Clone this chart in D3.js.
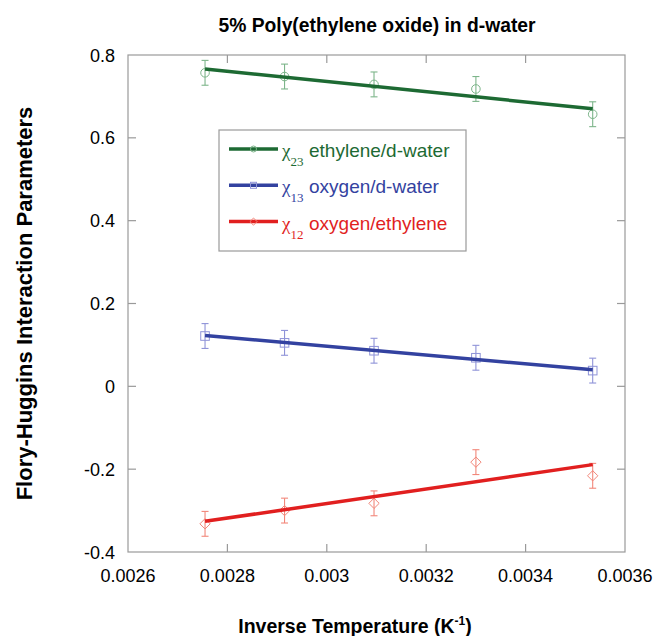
<!DOCTYPE html>
<html lang="en">
<head>
<meta charset="utf-8">
<title>Flory-Huggins parameters</title>
<script src="https://d3js.org/d3.v7.min.js"></script>
<style>
  body { margin: 0; background: #fff; }
  text { font-family: Arial, 'Liberation Sans', sans-serif; }
</style>
</head>
<body>
<div class="chart"></div>
<script type="text/javascript">
// inverse temperature (1/K)
const invT = [0.002755, 0.002915, 0.003095, 0.0033, 0.003535];

// chi values
const chi23 = [0.757, 0.748, 0.729, 0.718, 0.657];
const chi13 = [0.1215, 0.105, 0.086, 0.069, 0.038];
const chi12 = [-0.332, -0.300, -0.2825, -0.183, -0.216];
const errBar = 0.03;

// fitted lines, value at first and last temperature
const fit23 = [0.766, 0.670];
const fit13 = [0.123, 0.040];
const fit12 = [-0.326, -0.189];

const xTicks = [0.0026, 0.0028, 0.003, 0.0032, 0.0034, 0.0036];
const yTicks = [-0.4, -0.2, 0, 0.2, 0.4, 0.6, 0.8];

const seriesNames = ['ethylene/d-water', 'oxygen/d-water', 'oxygen/ethylene'];
const seriesSubs = ['23', '13', '12'];

const width = 655;
const height = 636;
const plotL = 128, plotR = 625, plotT = 55, plotB = 552;

const svg = d3.select('.chart')
  .append('svg')
  .attr('width', width)
  .attr('height', height);

const x = d3.scaleLinear().domain([0.0026, 0.0036]).range([plotL, plotR]);
const y = d3.scaleLinear().domain([-0.4, 0.8]).range([plotB, plotT]);

const series = [
  {vals: chi23, fit: fit23, line: '#1d6a33', mark: '#7db58a', shape: 'circle'},
  {vals: chi13, fit: fit13, line: '#3342a0', mark: '#8f93d8', shape: 'square'},
  {vals: chi12, fit: fit12, line: '#e11f1f', mark: '#f2877a', shape: 'diamond'}
];

// frame
svg.append('rect')
  .attr('x', plotL).attr('y', plotT)
  .attr('width', plotR - plotL).attr('height', plotB - plotT)
  .attr('fill', 'none').attr('stroke', '#9a9a9a').attr('stroke-width', 1.2);

// ticks on all four sides, pointing in
const tickLen = 8;
const tickColor = '#9a9a9a';
xTicks.slice(1, -1).forEach(t => {
  svg.append('line').attr('x1', x(t)).attr('x2', x(t))
    .attr('y1', plotB).attr('y2', plotB - tickLen)
    .attr('stroke', tickColor).attr('stroke-width', 1.2);
  svg.append('line').attr('x1', x(t)).attr('x2', x(t))
    .attr('y1', plotT).attr('y2', plotT + tickLen)
    .attr('stroke', tickColor).attr('stroke-width', 1.2);
});
yTicks.slice(1, -1).forEach(t => {
  svg.append('line').attr('x1', plotL).attr('x2', plotL + tickLen)
    .attr('y1', y(t)).attr('y2', y(t))
    .attr('stroke', tickColor).attr('stroke-width', 1.2);
  svg.append('line').attr('x1', plotR).attr('x2', plotR - tickLen)
    .attr('y1', y(t)).attr('y2', y(t))
    .attr('stroke', tickColor).attr('stroke-width', 1.2);
});

// tick labels
svg.selectAll('.xlab')
  .data(xTicks)
  .enter()
  .append('text')
  .attr('x', d => x(d))
  .attr('y', 582)
  .attr('text-anchor', 'middle')
  .attr('font-size', 18)
  .text(d => String(+d.toPrecision(2)));

svg.selectAll('.ylab')
  .data(yTicks)
  .enter()
  .append('text')
  .attr('x', 115)
  .attr('y', d => y(d) + 6.5)
  .attr('text-anchor', 'end')
  .attr('font-size', 18)
  .text(d => String(+d.toFixed(1)));

// title and axis titles
svg.append('text')
  .attr('x', 377).attr('y', 32)
  .attr('text-anchor', 'middle')
  .attr('font-size', 19.3).attr('font-weight', 'bold')
  .text('5% Poly(ethylene oxide) in d-water');

const xt = svg.append('text')
  .attr('x', 355).attr('y', 633)
  .attr('text-anchor', 'middle')
  .attr('font-size', 19.5).attr('font-weight', 'bold');
xt.append('tspan').text('Inverse Temperature (K');
xt.append('tspan').attr('dy', -8).attr('font-size', 12).text('-1');
xt.append('tspan').attr('dy', 8).text(')');

svg.append('text')
  .attr('transform', 'translate(32,' + ((plotT + plotB) / 2) + ') rotate(-90)')
  .attr('text-anchor', 'middle')
  .attr('font-size', 22).attr('font-weight', 'bold')
  .text('Flory-Huggins Interaction Parameters');

function drawMark(g, shape, cx, cy, size, color) {
  if (shape === 'circle') {
    g.append('circle').attr('cx', cx).attr('cy', cy).attr('r', size)
      .attr('fill', 'none').attr('stroke', color);
  } else if (shape === 'square') {
    g.append('rect').attr('x', cx - size).attr('y', cy - size)
      .attr('width', size * 2).attr('height', size * 2)
      .attr('fill', 'none').attr('stroke', color);
  } else {
    const s = size * 1.2;
    g.append('path')
      .attr('d', `M${cx},${cy - s}L${cx + s},${cy}L${cx},${cy + s}L${cx - s},${cy}Z`)
      .attr('fill', 'none').attr('stroke', color);
  }
}

// data: error bars, markers, fit lines
series.forEach(s => {
  const g = svg.append('g');
  s.vals.forEach((v, i) => {
    const cx = x(invT[i]);
    g.append('line').attr('x1', cx).attr('x2', cx)
      .attr('y1', y(v - errBar)).attr('y2', y(v + errBar))
      .attr('stroke', s.mark).attr('stroke-width', 1.1);
    [v - errBar, v + errBar].forEach(e => {
      g.append('line').attr('x1', cx - 3.5).attr('x2', cx + 3.5)
        .attr('y1', y(e)).attr('y2', y(e))
        .attr('stroke', s.mark).attr('stroke-width', 1.1);
    });
    drawMark(g, s.shape, cx, y(v), 4.3, s.mark);
  });
  g.append('line')
    .attr('x1', x(invT[0])).attr('y1', y(s.fit[0]))
    .attr('x2', x(invT[invT.length - 1])).attr('y2', y(s.fit[1]))
    .attr('stroke', s.line).attr('stroke-width', 3.5);
});

// legend
svg.append('rect')
  .attr('x', 219).attr('y', 130)
  .attr('width', 247).attr('height', 121)
  .attr('fill', '#fff').attr('stroke', '#9a9a9a').attr('stroke-width', 1.2);

series.forEach((s, i) => {
  const base = 157 + i * 36.3;
  svg.append('line')
    .attr('x1', 229).attr('x2', 278)
    .attr('y1', base - 8).attr('y2', base - 8)
    .attr('stroke', s.line).attr('stroke-width', 3.5);
  drawMark(svg, s.shape, 253.5, base - 8, 3, s.mark);
  const t = svg.append('text')
    .attr('x', 282).attr('y', base)
    .attr('fill', s.line);
  t.append('tspan')
    .attr('font-family', "'Times New Roman', 'Liberation Serif', serif")
    .attr('font-size', 19).text('\u03c7');
  t.append('tspan')
    .attr('font-family', "'Times New Roman', 'Liberation Serif', serif")
    .attr('font-size', 13).attr('dy', 9).text(seriesSubs[i]);
  t.append('tspan')
    .attr('x', 309).attr('dy', -9)
    .attr('font-size', 19).text(seriesNames[i]);
});
</script>
</body>
</html>
